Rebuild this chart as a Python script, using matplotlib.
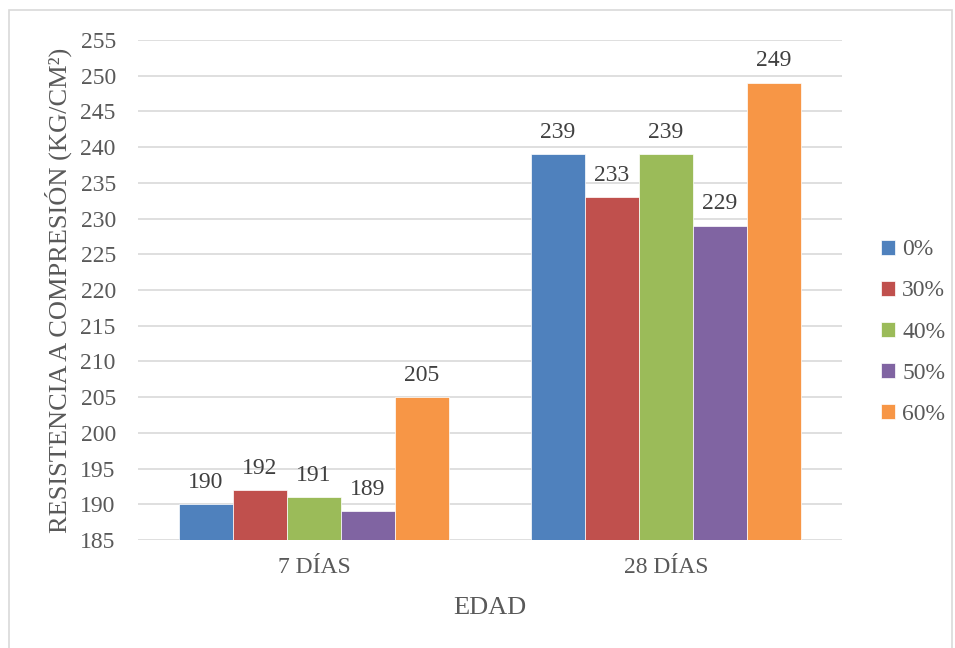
import numpy as np
import matplotlib.pyplot as plt
from matplotlib.patches import Rectangle

# Compressive strength by age and replacement percentage
edades = ["7 DÍAS", "28 DÍAS"]
series = ["0%", "30%", "40%", "50%", "60%"]
valores = {
    "0%": [190, 239],
    "30%": [192, 233],
    "40%": [191, 239],
    "50%": [189, 229],
    "60%": [205, 249],
}
colores = ["#4f81bd", "#c0504d", "#9bbb59", "#8064a2", "#f79646"]
yticks = list(range(185, 256, 5))

plt.rcParams['font.family'] = ['Liberation Serif', 'DejaVu Serif']
gris = "#595959"

fig = plt.figure(figsize=(9.55, 6.48), dpi=100)
ax = fig.add_axes([138 / 955, 108 / 648, 704 / 955, 500 / 648])

# outer frame of the chart
fig.patches.append(Rectangle((9 / 955, -0.01), 943 / 955, 1 - 10 / 648 + 0.01,
                             transform=fig.transFigure, fill=False,
                             edgecolor="#d9d9d9", linewidth=1.2))

x = np.arange(len(edades))
ancho = 0.1535
for i, (s, c) in enumerate(zip(series, colores)):
    pos = x + (i - 2) * ancho
    vals = valores[s]
    ax.bar(pos, [v - 185 for v in vals], ancho, bottom=185, color=c,
           label=s, zorder=3, edgecolor="white", linewidth=0.5)
    for px, v in zip(pos, vals):
        ax.text(px, v + 1.6, str(v), ha="center", va="bottom",
                fontsize=17, color="#404040")

ax.set_xlim(-0.5, 1.5)
ax.set_ylim(185, 255)
ax.set_yticks(yticks)
ax.set_xticks(x)
ax.set_xticklabels(edades)
ax.tick_params(axis="both", length=0, labelsize=17, colors=gris)
ax.tick_params(axis="y", pad=16)
ax.tick_params(axis="x", pad=12)
ax.yaxis.grid(True, color="#d9d9d9", linewidth=1.2, zorder=0)
for sp in ax.spines.values():
    sp.set_visible(False)

ax.set_ylabel("RESISTENCIA A COMPRESIÓN (KG/CM²)", fontsize=19, color=gris,
              labelpad=6)
ax.set_xlabel("EDAD", fontsize=19, color=gris, labelpad=14)

leg = ax.legend(loc="center left", bbox_to_anchor=(1.025, 0.416), frameon=False,
                fontsize=17, handlelength=0.6, handleheight=0.6,
                handletextpad=0.3, labelspacing=0.85, labelcolor=gris)

fig.savefig("out.png", dpi=100)
